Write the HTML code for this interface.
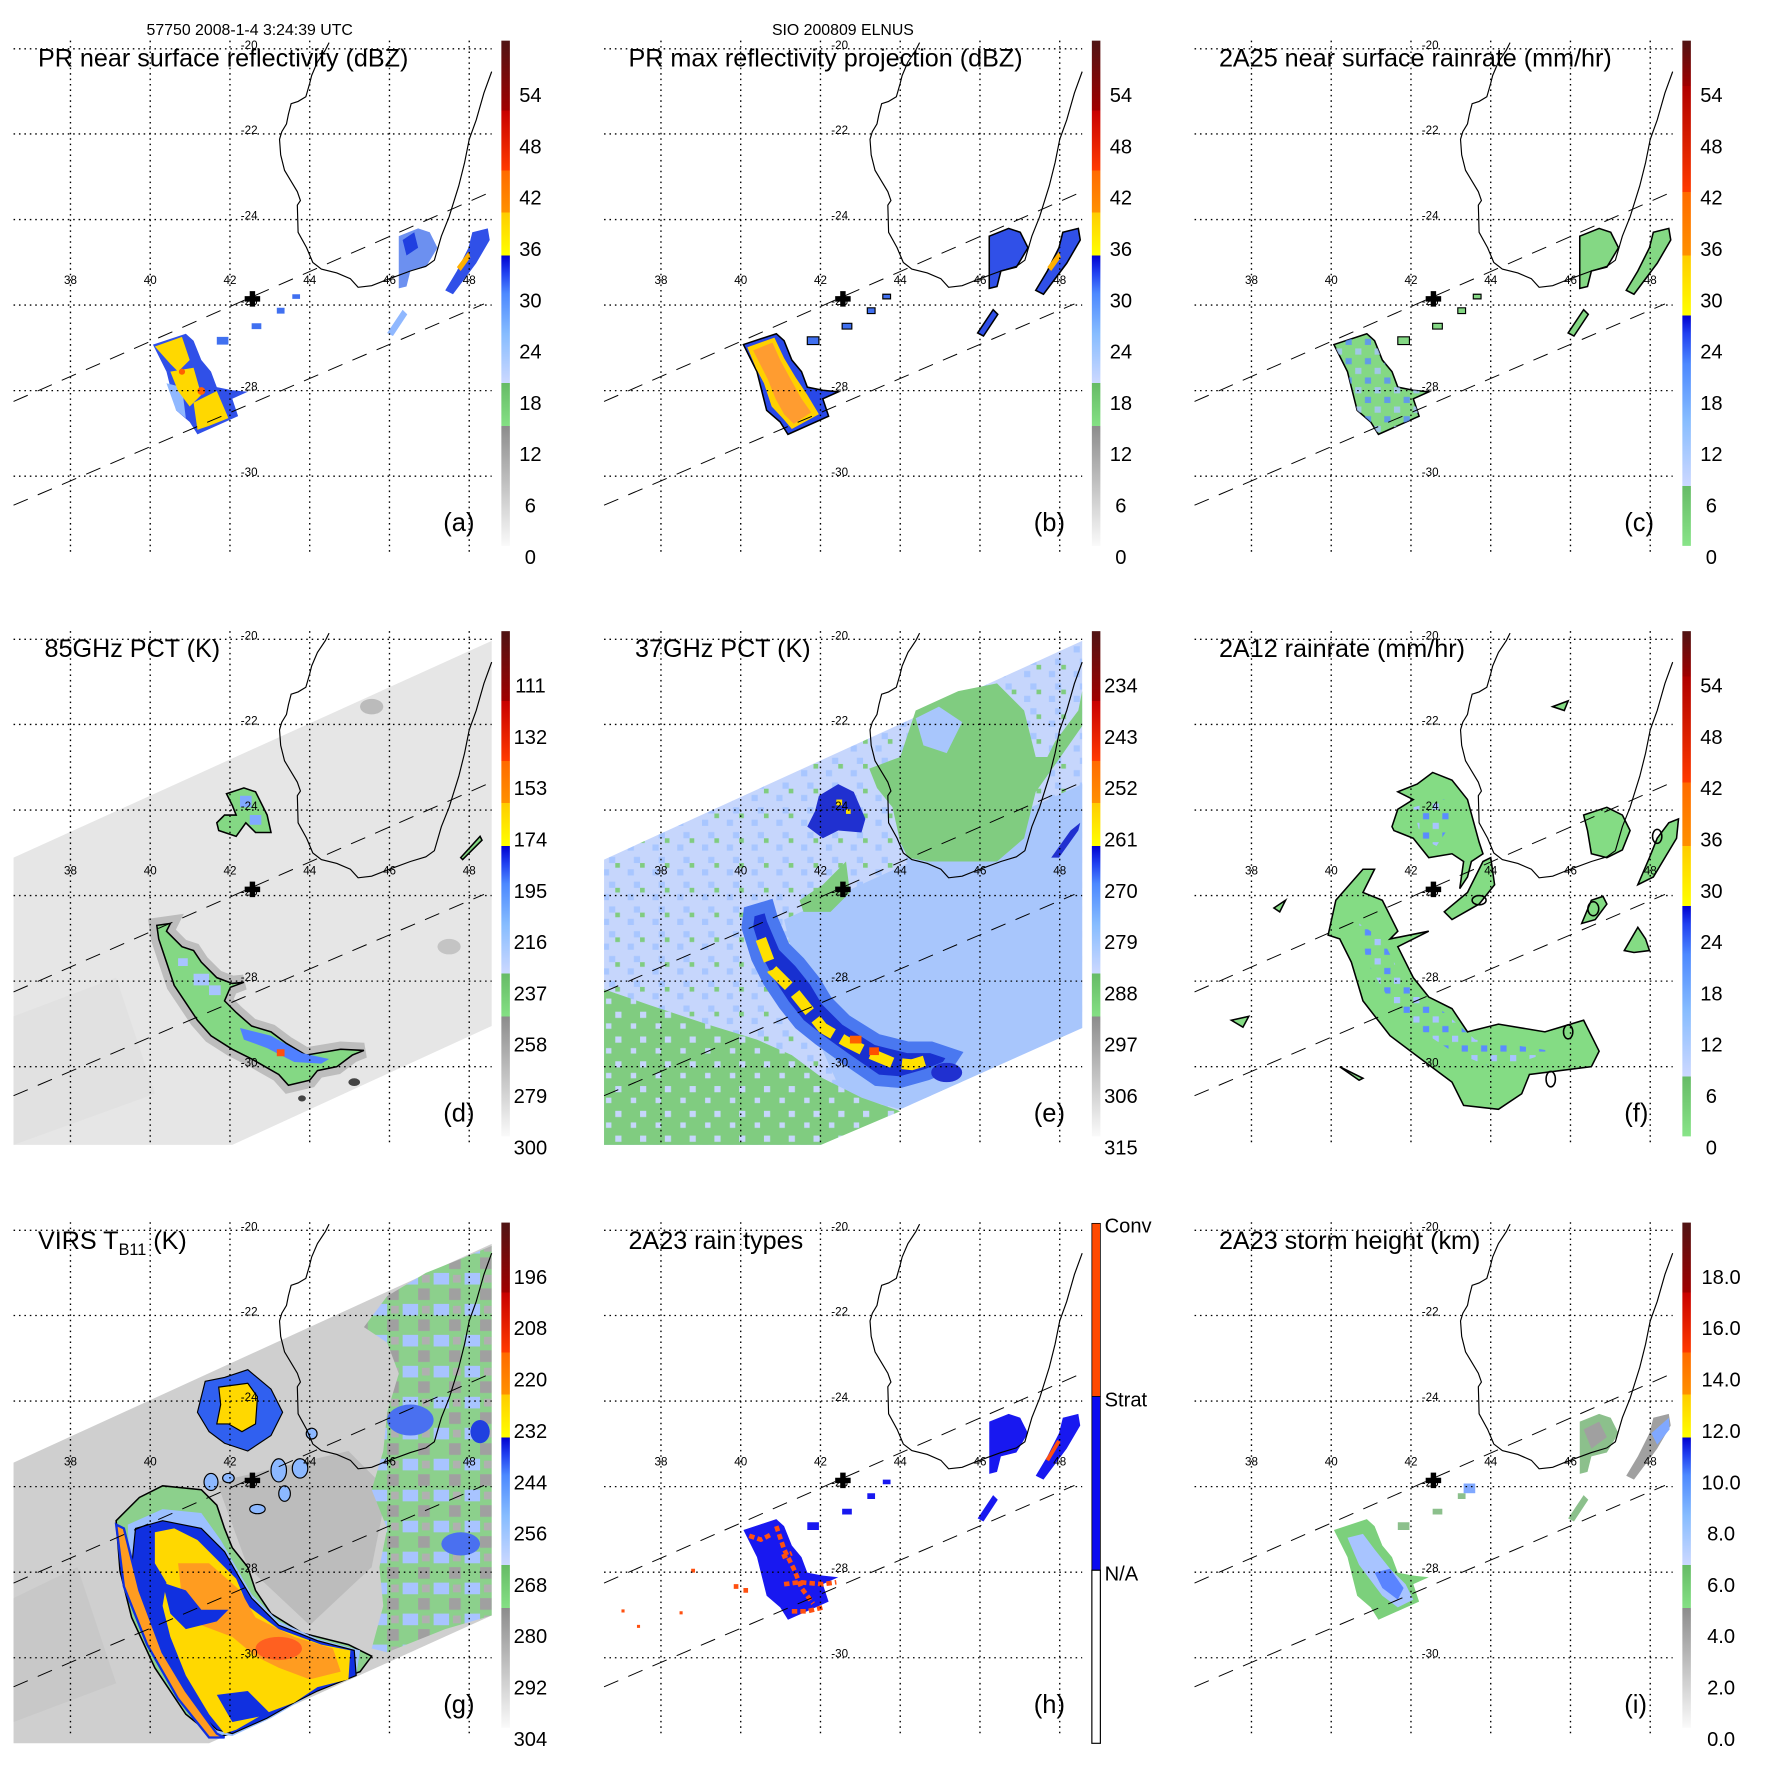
<!DOCTYPE html>
<html><head><meta charset="utf-8"><style>html,body{margin:0;padding:0;background:#fff}svg{display:block}</style></head>
<body>
<svg xmlns="http://www.w3.org/2000/svg" xmlns:xlink="http://www.w3.org/1999/xlink" width="1771" height="1771" viewBox="0 0 1771 1771" font-family="'Liberation Sans', Arial, sans-serif">
<defs>
 <linearGradient id="cbA" x1="0" y1="1" x2="0" y2="0">
  <stop offset="0" stop-color="#fafafa"/><stop offset="0.2375" stop-color="#8c8c8c"/>
  <stop offset="0.2375" stop-color="#84e084"/><stop offset="0.322" stop-color="#66bb66"/>
  <stop offset="0.322" stop-color="#ccd8ff"/><stop offset="0.42" stop-color="#86bcff"/><stop offset="0.5" stop-color="#4c88ff"/><stop offset="0.54" stop-color="#2040f0"/><stop offset="0.575" stop-color="#0000d0"/>
  <stop offset="0.575" stop-color="#ffff00"/><stop offset="0.66" stop-color="#ffcc00"/>
  <stop offset="0.66" stop-color="#ff9000"/><stop offset="0.743" stop-color="#ff6a00"/>
  <stop offset="0.743" stop-color="#ff3a00"/><stop offset="0.862" stop-color="#c80000"/>
  <stop offset="0.862" stop-color="#a00000"/><stop offset="1" stop-color="#501414"/>
 </linearGradient>
 <linearGradient id="cbC" x1="0" y1="1" x2="0" y2="0">
  <stop offset="0" stop-color="#88e488"/><stop offset="0.119" stop-color="#66bb66"/>
  <stop offset="0.119" stop-color="#ccd8ff"/><stop offset="0.25" stop-color="#86bcff"/><stop offset="0.36" stop-color="#4c88ff"/><stop offset="0.42" stop-color="#2040f0"/><stop offset="0.456" stop-color="#0000d0"/>
  <stop offset="0.456" stop-color="#ffff00"/><stop offset="0.575" stop-color="#ffcc00"/>
  <stop offset="0.575" stop-color="#ff9000"/><stop offset="0.70" stop-color="#ff6a00"/>
  <stop offset="0.70" stop-color="#ff3a00"/><stop offset="0.91" stop-color="#b00000"/>
  <stop offset="0.91" stop-color="#a00000"/><stop offset="1" stop-color="#501414"/>
 </linearGradient>
 <pattern id="mot" patternUnits="userSpaceOnUse" width="64" height="64">
  <rect width="64" height="64" fill="#c6d6fc"/>
  <rect x="0" y="0" width="12" height="12" fill="#80cc80"/><rect x="32" y="16" width="16" height="16" fill="#a8c6ff"/>
  <rect x="48" y="48" width="16" height="16" fill="#a8c6ff"/>
 </pattern>
 <pattern id="motg" patternUnits="userSpaceOnUse" width="64" height="64">
  <rect width="64" height="64" fill="#80cc80"/>
  <rect x="0" y="0" width="16" height="16" fill="#c6d6fc"/><rect x="40" y="30" width="14" height="14" fill="#c6d6fc"/>
 </pattern>
 <pattern id="spk" patternUnits="userSpaceOnUse" width="50" height="50">
  <rect x="0" y="0" width="16" height="16" fill="#a8c4ff"/><rect x="25" y="25" width="16" height="16" fill="#5a8cff"/>
 </pattern>
 <pattern id="rgt" patternUnits="userSpaceOnUse" width="80" height="80">
  <rect width="80" height="80" fill="#8cd08c"/>
  <rect x="0" y="0" width="40" height="30" fill="#a8c4ff"/><rect x="40" y="40" width="30" height="30" fill="#a0a0a0"/><rect x="50" y="5" width="20" height="20" fill="#b0b0b0"/>
 </pattern>
 <g id="grid">
  <path d="M35,126H1270M35,346H1270M35,567H1270M35,788H1270M35,1009H1270M35,1230H1270M182,105V1432M388,105V1432M594,105V1432M800,105V1432M1006,105V1432M1212,105V1432" stroke="#000" stroke-width="3.5" stroke-dasharray="4 10" fill="none"/>
  <path d="M35,1037L1270,495M35,1305L1250,785" stroke="#000" stroke-width="2.5" stroke-dasharray="40 28" fill="none"/>
  <path d="M850,110L840,130L820,160L805,195L800,215L790,250L770,262L752,268L745,295L740,320L728,340L722,360L725,400L735,440L750,465L768,495L776,518L768,530L770,600L792,640L808,678L830,695L870,705L905,720L925,742L960,738L1000,722L1060,700L1100,688L1122,672L1140,610L1160,560L1185,480L1200,420L1212,360L1230,310L1250,240L1270,185" stroke="#000" stroke-width="3" fill="none"/>
  <path d="M652,752V792M632,772H672" stroke="#000" stroke-width="14"/>
  <g font-size="30" fill="#000">
   <text x="622" y="126">-20</text><text x="622" y="346">-22</text><text x="622" y="567">-24</text><text x="622" y="788">-26</text><text x="622" y="1009">-28</text><text x="622" y="1230">-30</text>
  </g>
  <g font-size="30" fill="#000" text-anchor="middle">
   <text x="182" y="733">38</text><text x="388" y="733">40</text><text x="594" y="733">42</text><text x="800" y="733">44</text><text x="1006" y="733">46</text><text x="1212" y="733">48</text>
  </g>
 </g>
 <path id="prblob" d="M395,890L480,862L500,880L520,930L545,960L560,1000L600,1008L640,1012L600,1030L615,1075L510,1122L490,1090L455,1060L440,1000L430,960Z"/>
 <path id="e1" d="M1030,610L1080,590L1110,600L1130,640L1100,690L1060,700L1050,740L1030,745L1030,680Z"/>
 <path id="e2" d="M1150,750L1180,700L1210,640L1220,600L1260,590L1265,620L1230,680L1200,720L1170,760Z"/>
 <path id="e3" d="M1000,860L1040,800L1052,812L1015,868Z"/>
 <path id="dArc" d="M405,865L440,860L430,880L470,920L500,930L520,960L545,985L560,1000L600,1015L630,1012L595,1025L580,1060L610,1090L650,1125L700,1140L740,1170L790,1200L850,1190L880,1185L940,1188L910,1200L870,1230L820,1240L800,1265L745,1278L720,1250L650,1210L600,1185L545,1150L510,1110L480,1065L450,1020L430,960L410,900Z"/>
</defs>

<!-- ============ PANEL A ============ -->
<g transform="translate(0,0) scale(0.38715)">
 <use xlink:href="#prblob" fill="#3050e8"/>
 <path d="M430,990L470,1000L480,1080L455,1060Z" fill="#90b8ff"/>
 <path d="M400,895L470,870L490,930L460,960L440,940Z" fill="#ffd800"/>
 <path d="M440,960L500,950L520,1020L490,1050L460,1010Z" fill="#ffd800"/>
 <path d="M500,1040L560,1010L590,1080L540,1100L510,1110Z" fill="#ffd800"/>
 <circle cx="520" cy="1010" r="10" fill="#ff6000"/><circle cx="470" cy="960" r="8" fill="#ff6000"/>
 <use xlink:href="#e1" fill="#6c90f0"/><path d="M1040,620L1070,600L1080,640L1050,660Z" fill="#2040e0"/>
 <use xlink:href="#e2" fill="#3050e8"/><path d="M1180,690L1210,650L1215,665L1190,700Z" fill="#ffb000"/>
 <use xlink:href="#e3" fill="#90b8ff"/>
 <path d="M560,870h30v20h-30zM650,835h25v15h-25zM715,795h20v15h-20zM755,760h20v12h-20z" fill="#4070f0"/>
 <use xlink:href="#grid"/>
 <rect x="1295" y="105" width="22" height="1305" fill="url(#cbA)"/>
 <text x="645" y="90" font-size="41" text-anchor="middle">57750 2008-1-4 3:24:39 UTC</text>
 <text x="98" y="172" font-size="65">PR near surface reflectivity (dBZ)</text>
 <text x="1145" y="1372" font-size="66">(a)</text>
 <g font-size="52" text-anchor="middle"><text x="1370" y="263">54</text><text x="1370" y="396">48</text><text x="1370" y="528">42</text><text x="1370" y="661">36</text><text x="1370" y="794">30</text><text x="1370" y="926">24</text><text x="1370" y="1059">18</text><text x="1370" y="1191">12</text><text x="1370" y="1324">6</text><text x="1370" y="1457">0</text></g>
</g>

<!-- ============ PANEL B ============ -->
<g transform="translate(590.5,0) scale(0.38715)">
 <use xlink:href="#prblob" fill="#2848e8" stroke="#000" stroke-width="4"/>
 <path d="M405,897L475,872L500,925L530,975L560,1020L590,1070L520,1108L498,1082L468,1050L448,990L428,952Z" fill="#ffd000"/>
 <path d="M420,905L470,885L490,930L520,985L545,1030L570,1065L525,1095L500,1070L478,1030L458,980Z" fill="#ff9c30"/>
 <use xlink:href="#e1" fill="#3050e8" stroke="#000" stroke-width="4"/>
 <use xlink:href="#e2" fill="#3050e8" stroke="#000" stroke-width="4"/><path d="M1180,690L1210,650L1215,665L1190,700Z" fill="#ffb000"/>
 <use xlink:href="#e3" fill="#3050e8" stroke="#000" stroke-width="4"/>
 <path d="M560,870h30v20h-30zM650,835h25v15h-25zM715,795h20v15h-20zM755,760h20v12h-20z" fill="#4070f0" stroke="#000" stroke-width="3"/>
 <use xlink:href="#grid"/>
 <rect x="1295" y="105" width="22" height="1305" fill="url(#cbA)"/>
 <text x="652" y="90" font-size="41" text-anchor="middle">SIO 200809 ELNUS</text>
 <text x="98" y="172" font-size="65">PR max reflectivity projection (dBZ)</text>
 <text x="1145" y="1372" font-size="66">(b)</text>
 <g font-size="52" text-anchor="middle"><text x="1370" y="263">54</text><text x="1370" y="396">48</text><text x="1370" y="528">42</text><text x="1370" y="661">36</text><text x="1370" y="794">30</text><text x="1370" y="926">24</text><text x="1370" y="1059">18</text><text x="1370" y="1191">12</text><text x="1370" y="1324">6</text><text x="1370" y="1457">0</text></g>
</g>

<!-- ============ PANEL C ============ -->
<g transform="translate(1181,0) scale(0.38715)">
 <use xlink:href="#prblob" fill="#84d884" stroke="#000" stroke-width="4"/>
 <use xlink:href="#prblob" fill="url(#spk)" opacity="0.8"/>
 <use xlink:href="#e1" fill="#84d884" stroke="#000" stroke-width="4"/>
 <use xlink:href="#e2" fill="#84d884" stroke="#000" stroke-width="4"/>
 <use xlink:href="#e3" fill="#84d884" stroke="#000" stroke-width="4"/>
 <path d="M560,870h30v20h-30zM650,835h25v15h-25zM715,795h20v15h-20zM755,760h20v12h-20z" fill="#84d884" stroke="#000" stroke-width="3"/>
 <use xlink:href="#grid"/>
 <rect x="1295" y="105" width="22" height="1305" fill="url(#cbC)"/>
 <text x="98" y="172" font-size="65">2A25 near surface rainrate (mm/hr)</text>
 <text x="1145" y="1372" font-size="66">(c)</text>
 <g font-size="52" text-anchor="middle"><text x="1370" y="263">54</text><text x="1370" y="396">48</text><text x="1370" y="528">42</text><text x="1370" y="661">36</text><text x="1370" y="794">30</text><text x="1370" y="926">24</text><text x="1370" y="1059">18</text><text x="1370" y="1191">12</text><text x="1370" y="1324">6</text><text x="1370" y="1457">0</text></g>
</g>

<!-- ============ PANEL D ============ -->
<g transform="translate(0,590.5) scale(0.38715)">
 <path d="M35,690L1270,130L1270,1125L600,1432L35,1432Z" fill="#e6e6e6"/>
 <path d="M35,1100L300,1000L400,1300L35,1432Z" fill="#dedede" opacity="0.6"/>
 <use xlink:href="#dArc" fill="none" stroke="#8c8c8c" stroke-width="40" opacity="0.45"/>
 <use xlink:href="#dArc" fill="#84d884" stroke="#000" stroke-width="4"/>
 <path d="M620,1130L700,1150L780,1195L850,1210L830,1222L760,1218L690,1182L630,1160Z" fill="#5080ff"/>
 <path d="M500,990h40v30h-40zM540,1020h30v25h-30zM460,950h25v20h-25z" fill="#a8c4ff"/>
 <rect x="715" y="1185" width="20" height="18" fill="#ff5010"/>
 <path d="M585,525L630,510L660,520L690,580L700,625L660,625L635,600L610,635L565,620L560,600L580,580L610,580L600,555Z" fill="#84d884" stroke="#000" stroke-width="4"/>
 <path d="M620,530h30v30h-30zM645,580h30v25h-30z" fill="#80a8ff"/>
 <path d="M1190,690L1240,635L1245,645L1195,695Z" fill="#84d884" stroke="#000" stroke-width="4"/>
 <ellipse cx="915" cy="1270" rx="15" ry="10" fill="#444"/><ellipse cx="780" cy="1312" rx="10" ry="8" fill="#444"/>
 <ellipse cx="960" cy="300" rx="30" ry="20" fill="#bbb"/><ellipse cx="1160" cy="920" rx="30" ry="20" fill="#c4c4c4"/>
 <use xlink:href="#grid"/>
 <rect x="1295" y="105" width="22" height="1305" fill="url(#cbA)"/>
 <text x="115" y="172" font-size="65">85GHz PCT (K)</text>
 <text x="1145" y="1372" font-size="66">(d)</text>
 <g font-size="52" text-anchor="middle"><text x="1370" y="263">111</text><text x="1370" y="396">132</text><text x="1370" y="528">153</text><text x="1370" y="661">174</text><text x="1370" y="794">195</text><text x="1370" y="926">216</text><text x="1370" y="1059">237</text><text x="1370" y="1191">258</text><text x="1370" y="1324">279</text><text x="1370" y="1457">300</text></g>
</g>

<!-- ============ PANEL E ============ -->
<g transform="translate(590.5,590.5) scale(0.38715)">
 <path d="M35,695L1270,130L1270,1130L595,1432L35,1432Z" fill="url(#mot)"/>
 <path d="M500,850L1270,500L1270,1130L800,1340L650,1300L560,1100Z" fill="#a8c6fc"/>
 <path d="M35,1030L150,1070L300,1120L430,1160L520,1200L600,1260L700,1310L800,1345L595,1432L35,1432Z" fill="url(#motg)"/>
 <path d="M720,460L800,430L840,310L950,260L1050,240L1120,310L1150,430L1180,430L1200,390L1260,310L1270,260L1270,350L1200,450L1150,520L1120,640L1050,700L950,700L870,700L820,690L800,650L780,560L740,510Z" fill="#80cc80"/>
 <path d="M840,330L900,300L960,340L920,420L860,400Z" fill="#a8c6fc"/>
 <path d="M540,800L600,760L660,700L670,780L620,830L550,830Z" fill="#80cc80"/>
 <path d="M410,830L460,815L470,850L500,920L540,960L580,1010L610,1060L660,1110L740,1160L820,1180L880,1180L940,1200L920,1230L870,1250L800,1270L740,1265L660,1210L590,1160L540,1120L500,1070L460,1010L430,950L405,870Z" fill="#1830d0" stroke="#4a78f0" stroke-width="30"/>
 <path d="M440,900L470,980L520,1030L560,1080L600,1130L660,1165L720,1195L780,1220L830,1225L880,1210" fill="none" stroke="#ffe000" stroke-width="28" stroke-dasharray="60 25"/>
 <rect x="670" y="1150" width="30" height="20" fill="#ff6000"/><rect x="720" y="1180" width="25" height="20" fill="#ff5000"/>
 <path d="M590,530L640,500L680,520L710,590L700,625L640,620L600,640L560,610L580,570Z" fill="#2030d0"/>
 <rect x="635" y="540" width="15" height="15" fill="#ffe000"/><rect x="660" y="565" width="12" height="12" fill="#ffe000"/>
 <ellipse cx="920" cy="1245" rx="40" ry="25" fill="#2030d0"/>
 <path d="M1190,690L1240,620L1265,600L1260,620L1210,690Z" fill="#2030d0"/>
 <use xlink:href="#grid"/>
 <rect x="1295" y="105" width="22" height="1305" fill="url(#cbA)"/>
 <text x="115" y="172" font-size="65">37GHz PCT (K)</text>
 <text x="1145" y="1372" font-size="66">(e)</text>
 <g font-size="52" text-anchor="middle"><text x="1370" y="263">234</text><text x="1370" y="396">243</text><text x="1370" y="528">252</text><text x="1370" y="661">261</text><text x="1370" y="794">270</text><text x="1370" y="926">279</text><text x="1370" y="1059">288</text><text x="1370" y="1191">297</text><text x="1370" y="1324">306</text><text x="1370" y="1457">315</text></g>
</g>

<!-- ============ PANEL F ============ -->
<g transform="translate(1181,590.5) scale(0.38715)">
 <g fill="#84dc84" stroke="#000" stroke-width="4">
  <path d="M470,720L500,720L470,780L520,800L560,880L540,900L640,880L560,920L600,1000L640,1050L700,1080L740,1140L820,1120L940,1140L1040,1110L1080,1190L1060,1230L900,1250L880,1300L820,1340L730,1330L700,1270L620,1210L540,1150L470,1060L440,960L410,900L380,890L400,800Z"/>
  <path d="M545,610L560,565L600,540L560,520L610,500L650,470L700,490L740,540L770,650L780,680L750,700L740,740L720,770L730,700L700,680L640,690L600,640L550,620Z"/>
  <path d="M740,780L780,700L800,690L810,760L770,810L700,850L680,830Z"/>
  <path d="M1040,580L1100,560L1140,580L1160,620L1140,670L1100,690L1060,680L1050,620Z"/>
  <path d="M1180,760L1210,690L1230,640L1260,600L1285,590L1280,640L1250,690L1220,740Z"/>
  <path d="M1035,860L1060,800L1090,790L1100,810L1070,850Z"/>
  <path d="M1145,930L1180,870L1200,900L1210,930L1170,935Z"/>
  <path d="M960,300L1000,285L990,310Z"/><path d="M130,1110L175,1100L160,1128Z"/><path d="M240,820L270,800L255,830Z"/><path d="M410,1230L470,1260L460,1265Z"/>
 </g>
 <path d="M460,860L520,900L560,980L620,1040L680,1090L760,1160L900,1180L960,1190L900,1210L800,1230L700,1190L610,1130L540,1060L480,960Z" fill="url(#spk)"/>
 <path d="M600,560L680,540L700,600L660,660L620,640Z" fill="url(#spk)"/>
 <g fill="none" stroke="#000" stroke-width="4"><ellipse cx="770" cy="800" rx="18" ry="12"/><ellipse cx="1000" cy="1140" rx="12" ry="18"/><ellipse cx="955" cy="1262" rx="12" ry="20"/><ellipse cx="1230" cy="635" rx="12" ry="18"/><ellipse cx="1065" cy="822" rx="14" ry="18"/></g>
 <use xlink:href="#grid"/>
 <rect x="1295" y="105" width="22" height="1305" fill="url(#cbC)"/>
 <text x="98" y="172" font-size="65">2A12 rainrate (mm/hr)</text>
 <text x="1145" y="1372" font-size="66">(f)</text>
 <g font-size="52" text-anchor="middle"><text x="1370" y="263">54</text><text x="1370" y="396">48</text><text x="1370" y="528">42</text><text x="1370" y="661">36</text><text x="1370" y="794">30</text><text x="1370" y="926">24</text><text x="1370" y="1059">18</text><text x="1370" y="1191">12</text><text x="1370" y="1324">6</text><text x="1370" y="1457">0</text></g>
</g>

<!-- ============ PANEL G ============ -->
<g transform="translate(0,1180) scale(0.38715)">
 <path d="M35,730L1270,165L1270,1125L540,1455L35,1455Z" fill="#cfcfcf"/>
 <path d="M560,780L900,700L1000,800L960,1000L800,1150L640,1000Z" fill="#bcbcbc"/>
 <path d="M35,1080L200,1000L300,1300L35,1400Z" fill="#c4c4c4" opacity="0.7"/>
 <path d="M940,380L1000,300L1100,240L1200,200L1270,170L1270,1125L1150,1160L1000,1220L960,1210L990,1100L980,1000L1000,900L960,800L990,700L1000,600L1030,500L1000,420Z" fill="url(#rgt)"/>
 <ellipse cx="1060" cy="620" rx="60" ry="40" fill="#4a70f0"/><ellipse cx="1190" cy="940" rx="50" ry="30" fill="#4a70f0"/><ellipse cx="1240" cy="650" rx="25" ry="30" fill="#2040e0"/>
 <path d="M300,880L360,820L420,790L520,800L560,840L580,900L600,950L640,1000L660,1060L700,1120L780,1170L900,1200L960,1230L930,1270L870,1290L760,1350L680,1395L590,1432L555,1440L480,1380L400,1260L340,1130L310,1010Z" fill="#8cd08c" stroke="#000" stroke-width="4"/>
 <path d="M330,890L420,850L520,860L570,930L610,1000L650,1070L720,1140L820,1185L930,1215L920,1280L820,1320L700,1390L600,1436L560,1430L490,1370L420,1250L360,1120L335,1000Z" fill="#9cc0ff"/>
 <path d="M350,900L420,880L520,900L580,960L620,1030L650,1080L720,1150L820,1190L915,1215L920,1280L820,1320L760,1350L690,1390L600,1430L560,1420L500,1360L430,1250L370,1120L340,1000Z" fill="#1030e0" stroke="#000" stroke-width="3"/>
 <path d="M400,910L450,900L510,930L560,980L610,1030L640,1100L720,1160L830,1200L905,1215L900,1290L820,1310L760,1350L680,1380L610,1420L580,1430L540,1380L480,1280L440,1180L420,1100L430,1040L400,990Z" fill="#ffd800"/>
 <path d="M460,990L540,990L620,1060L660,1130L760,1180L860,1210L880,1270L800,1290L720,1260L660,1230L600,1180L520,1150L470,1080Z" fill="#ff9c20"/>
 <ellipse cx="720" cy="1210" rx="60" ry="30" fill="#ff6020"/>
 <path d="M420,1040L480,1060L520,1110L590,1110L560,1140L480,1160L440,1120Z" fill="#1030e0"/>
 <path d="M560,1330L640,1320L700,1380L650,1390L600,1400Z" fill="#1030e0"/>
 <path d="M300,890L320,900L360,1060L420,1220L480,1320L560,1430L580,1440L540,1440L460,1340L380,1200L320,1050Z" fill="#ff9c20" stroke="#1030e0" stroke-width="6"/>
 <path d="M530,520L580,510L640,490L700,540L730,600L700,660L640,700L580,680L540,650L510,600Z" fill="#3060f0" stroke="#000" stroke-width="3"/>
 <path d="M565,535L640,525L665,560L660,630L625,650L590,630L560,630L570,580Z" fill="#ffd800" stroke="#000" stroke-width="3"/>
 <g fill="#8cb8ff" stroke="#000" stroke-width="3"><ellipse cx="720" cy="750" rx="20" ry="30"/><ellipse cx="775" cy="745" rx="20" ry="25"/><ellipse cx="665" cy="850" rx="20" ry="12"/><ellipse cx="545" cy="780" rx="18" ry="22"/><ellipse cx="805" cy="655" rx="14" ry="14"/><ellipse cx="735" cy="810" rx="15" ry="20"/><ellipse cx="590" cy="770" rx="15" ry="12"/></g>
 <use xlink:href="#grid" transform="translate(0,4)"/>
 <rect x="1295" y="110" width="22" height="1305" fill="url(#cbA)"/>
 <text x="98" y="178" font-size="65">VIRS T<tspan font-size="42" dy="16">B11</tspan><tspan dy="-16" font-size="65"> (K)</tspan></text>
 <text x="1145" y="1377" font-size="66">(g)</text>
 <g font-size="52" text-anchor="middle"><text x="1370" y="268">196</text><text x="1370" y="401">208</text><text x="1370" y="533">220</text><text x="1370" y="666">232</text><text x="1370" y="799">244</text><text x="1370" y="931">256</text><text x="1370" y="1064">268</text><text x="1370" y="1196">280</text><text x="1370" y="1329">292</text><text x="1370" y="1462">304</text></g>
</g>

<!-- ============ PANEL H ============ -->
<g transform="translate(590.5,1180) scale(0.38715)">
 <g transform="translate(0,14)">
 <use xlink:href="#prblob" fill="#1818f0"/>
 <path d="M480,880L500,940L525,990L545,1040L575,1080M410,905L440,915L470,900M500,1030L540,1025L600,1030L635,1025M520,1100L560,1100L600,1090M495,960L520,950" fill="none" stroke="#ff5010" stroke-width="12" stroke-dasharray="14 8"/>
 <use xlink:href="#e1" fill="#1818f0"/>
 <use xlink:href="#e2" fill="#1818f0"/><path d="M1180,710L1210,660" stroke="#ff5010" stroke-width="10"/>
 <use xlink:href="#e3" fill="#1818f0"/>
 <path d="M560,870h30v20h-30zM650,835h25v15h-25zM715,795h20v15h-20zM755,760h20v12h-20z" fill="#1818f0"/>
 <path d="M370,1030h12v12h-12zM395,1040h12v12h-12zM260,990h10v10h-10zM230,1100h8v8h-8zM120,1135h8v8h-8zM80,1095h8v8h-8z" fill="#ff5010"/>
 </g>
 <use xlink:href="#grid" transform="translate(0,4)"/>
 <rect x="1295" y="112" width="22" height="447" fill="#ff4a00" stroke="#000" stroke-width="2"/>
 <rect x="1295" y="559" width="22" height="449" fill="#0a0af0" stroke="#000" stroke-width="2"/>
 <rect x="1295" y="1008" width="22" height="447" fill="#fff" stroke="#000" stroke-width="3"/>
 <g font-size="52"><text x="1328" y="135">Conv</text><text x="1328" y="585">Strat</text><text x="1328" y="1035">N/A</text></g>
 <text x="98" y="178" font-size="65">2A23 rain types</text>
 <text x="1145" y="1377" font-size="66">(h)</text>
</g>

<!-- ============ PANEL I ============ -->
<g transform="translate(1181,1180) scale(0.38715)">
 <g transform="translate(0,14)">
 <use xlink:href="#prblob" fill="#7cd07c"/>
 <path d="M430,910L470,900L500,940L540,990L580,1030L600,1070L560,1090L520,1060L490,1020L460,980Z" fill="#a8c4ff"/>
 <path d="M500,1000L540,990L575,1040L560,1070L520,1040Z" fill="#5a84ff"/>
 <use xlink:href="#e1" fill="#8cc08c"/><path d="M1040,630L1080,610L1100,650L1060,680Z" fill="#a0a0a0"/>
 <use xlink:href="#e2" fill="#a0a0a0"/><path d="M1215,640L1260,600L1262,630L1230,670Z" fill="#80a8ff"/>
 <use xlink:href="#e3" fill="#8cc08c"/>
 <path d="M560,870h30v20h-30zM650,835h25v15h-25zM715,795h20v15h-20z" fill="#8cc08c"/><path d="M730,770h30v25h-30z" fill="#80a8ff"/>
 </g>
 <use xlink:href="#grid" transform="translate(0,4)"/>
 <rect x="1295" y="110" width="22" height="1305" fill="url(#cbA)"/>
 <text x="98" y="178" font-size="65">2A23 storm height (km)</text>
 <text x="1145" y="1377" font-size="66">(i)</text>
 <g font-size="52" text-anchor="middle"><text x="1395" y="268">18.0</text><text x="1395" y="401">16.0</text><text x="1395" y="533">14.0</text><text x="1395" y="666">12.0</text><text x="1395" y="799">10.0</text><text x="1395" y="931">8.0</text><text x="1395" y="1064">6.0</text><text x="1395" y="1196">4.0</text><text x="1395" y="1329">2.0</text><text x="1395" y="1462">0.0</text></g>
</g>
</svg>
</body></html>
